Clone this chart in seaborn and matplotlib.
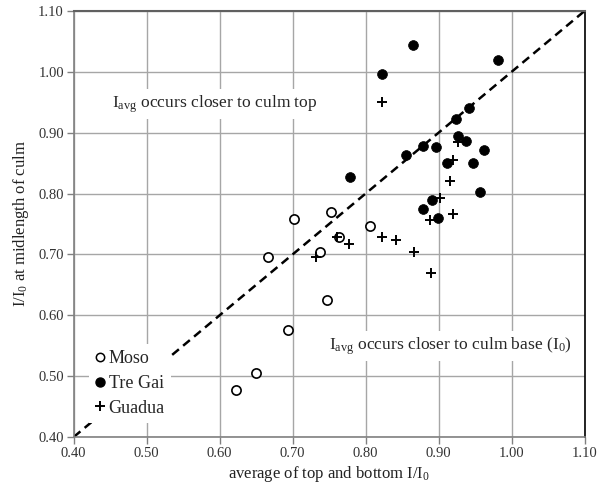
import matplotlib
matplotlib.use("Agg")
import matplotlib.pyplot as plt
import seaborn as sns
import pandas as pd
from matplotlib.lines import Line2D

# Moso
moso_x = [0.702, 0.752, 0.666, 0.763, 0.738, 0.806, 0.747, 0.693, 0.650, 0.622]
moso_y = [0.758, 0.770, 0.695, 0.728, 0.704, 0.747, 0.625, 0.576, 0.505, 0.478]

# Tre Gai
tregai_x = [0.865, 0.822, 0.981, 0.942, 0.924, 0.926, 0.937, 0.962, 0.897,
            0.879, 0.855, 0.912, 0.947, 0.957, 0.778, 0.891, 0.878, 0.899]
tregai_y = [1.044, 0.996, 1.020, 0.940, 0.923, 0.894, 0.886, 0.872, 0.876,
            0.879, 0.864, 0.850, 0.851, 0.802, 0.827, 0.789, 0.775, 0.760]

# Guadua
guadua_x = [0.823, 0.927, 0.920, 0.916, 0.902, 0.888, 0.920, 0.823, 0.841,
            0.777, 0.761, 0.732, 0.866, 0.890]
guadua_y = [0.951, 0.884, 0.856, 0.821, 0.792, 0.756, 0.767, 0.729, 0.723,
            0.717, 0.728, 0.695, 0.704, 0.670]

ticks = [0.40, 0.50, 0.60, 0.70, 0.80, 0.90, 1.00, 1.10]

sns.set_theme(style="white")
plt.rcParams["font.family"] = ["Liberation Serif", "DejaVu Serif"]
plt.rcParams["mathtext.fontset"] = "custom"
plt.rcParams["mathtext.rm"] = "Liberation Serif"
plt.rcParams["mathtext.it"] = "Liberation Serif:italic"

df = pd.concat([
    pd.DataFrame({"avg": moso_x, "mid": moso_y, "species": "Moso"}),
    pd.DataFrame({"avg": tregai_x, "mid": tregai_y, "species": "Tre Gai"}),
    pd.DataFrame({"avg": guadua_x, "mid": guadua_y, "species": "Guadua"}),
], ignore_index=True)

fig = plt.figure(figsize=(6.0, 4.92), dpi=100)
ax = fig.add_axes([0.1228, 0.1118, 0.8514, 0.8658])

grid_c = "#a6a6a6"
ax.set_xlim(0.40, 1.10)
ax.set_ylim(0.40, 1.10)
ax.set_xticks(ticks)
ax.set_yticks(ticks)
ax.set_xticklabels([f"{t:.2f}" for t in ticks])
ax.set_yticklabels([f"{t:.2f}" for t in ticks])
ax.grid(True, color=grid_c, linewidth=1.0)
ax.set_axisbelow(True)

# line of equality
ax.plot([0.40, 1.10], [0.40, 1.10], color="black", linestyle=(0, (3.5, 2.2)),
        linewidth=1.8, zorder=2)

sns.scatterplot(data=df[df.species == "Moso"], x="avg", y="mid", ax=ax,
                marker="o", s=44, facecolor="white", edgecolor="black",
                linewidth=1.2, zorder=3, legend=False)
sns.scatterplot(data=df[df.species == "Tre Gai"], x="avg", y="mid", ax=ax,
                marker="o", s=50, color="black", edgecolor="black",
                linewidth=0.5, zorder=3, legend=False)
sns.scatterplot(data=df[df.species == "Guadua"], x="avg", y="mid", ax=ax,
                marker="+", s=44, color="black", linewidth=1.4, zorder=4,
                legend=False)

ax.set_xlabel("average of top and bottom I/I$\\mathregular{_0}$", fontsize=12,
              color="#222222", labelpad=3)
ax.set_ylabel("I/I$\\mathregular{_0}$ at midlength of culm", fontsize=12,
              color="#222222", labelpad=5)

ax.tick_params(axis="both", which="both", direction="out", length=5,
               width=1, color="#808080", labelsize=10.5, labelcolor="#333333",
               bottom=True, left=True, pad=2)

for side in ["left", "bottom"]:
    ax.spines[side].set_color("#808080")
    ax.spines[side].set_linewidth(1.2)
ax.spines["top"].set_color("#606060")
ax.spines["top"].set_linewidth(1.5)
ax.spines["right"].set_color("black")
ax.spines["right"].set_linewidth(1.2)

box = dict(facecolor="white", edgecolor="none", pad=3)
ax.text(0.453, 0.947, "I$\\mathregular{_{avg}}$ occurs closer to culm top",
        fontsize=12.6, ha="left", va="center", bbox=box, zorder=5)
ax.text(1.083, 0.549, "I$\\mathregular{_{avg}}$ occurs closer to culm base (I$\\mathregular{_0}$)",
        fontsize=12.6, ha="right", va="center", bbox=box, zorder=5)

handles = [
    Line2D([], [], marker="o", linestyle="none", markersize=6,
           markerfacecolor="white", markeredgecolor="black", markeredgewidth=1.1),
    Line2D([], [], marker="o", linestyle="none", markersize=6.5,
           markerfacecolor="black", markeredgecolor="black"),
    Line2D([], [], marker="+", linestyle="none", markersize=7,
           color="black", markeredgewidth=1.4),
]
leg = ax.legend(handles, ["Moso", "Tre Gai", "Guadua"], loc="lower left",
                bbox_to_anchor=(0.012, 0.012), frameon=True, fontsize=13,
                handlelength=0.5, handletextpad=0.25, labelspacing=0.42,
                borderpad=0.35, fancybox=False)
leg.get_frame().set_facecolor("white")
leg.get_frame().set_edgecolor("none")
leg.get_frame().set_alpha(1)
leg.set_zorder(6)

fig.savefig("out.png", dpi=100)
